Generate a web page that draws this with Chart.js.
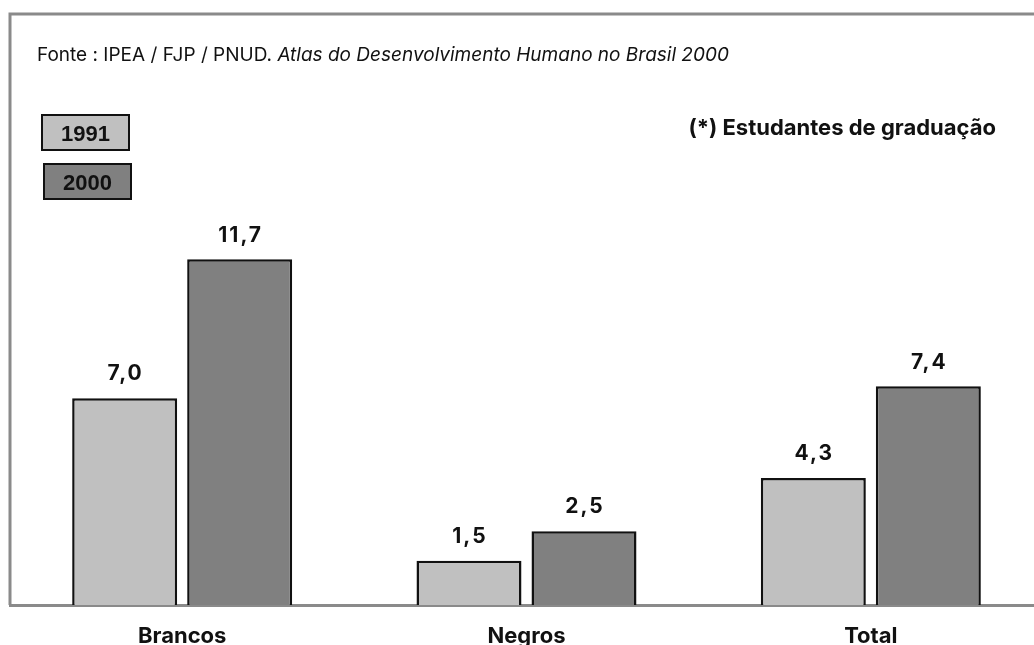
<!DOCTYPE html>
<html>
<head>
<meta charset="utf-8">
<script src="https://cdn.jsdelivr.net/npm/chart.js@4/dist/chart.umd.min.js"></script>
<style>
  html, body { margin: 0; padding: 0; background: #fff; overflow: hidden; }
  #wrap { width: 1034px; height: 645px; overflow: hidden; position: relative; }
  #wrap canvas { display: block; }
</style>
</head>
<body>
<div id="wrap"><canvas id="c" width="1050" height="645" style="width:1050px;height:645px"></canvas></div>
<script>
// Taxa de escolarização no ensino superior (%), por cor
const categories = ['Brancos', 'Negros', 'Total'];
const years = ['1991', '2000'];
const values1991 = [7.0, 1.5, 4.3];
const values2000 = [11.7, 2.5, 7.4];
const sourceText = 'Fonte : IPEA / FJP / PNUD. ';
const sourceTitle = 'Atlas do Desenvolvimento Humano no Brasil 2000';
const noteText = '(*) Estudantes de graduação';

const FONT = 'Inter, "Open Sans", sans-serif';
const LEGEND_FONT = '"Liberation Sans", Arial, sans-serif';
const FRAME = '#8a8a8a';

const fmt = v => v.toFixed(1).replace('.', ',');

// Moldura cinza em volta do gráfico
const framePlugin = {
  id: 'frame',
  beforeDatasetsDraw(chart) {
    const { ctx, chartArea: a } = chart;
    ctx.save();
    ctx.strokeStyle = FRAME;
    ctx.lineWidth = 3;
    ctx.beginPath();
    ctx.moveTo(a.right + 20, a.top);
    ctx.lineTo(a.left, a.top);
    ctx.lineTo(a.left, a.bottom);
    ctx.stroke();
    ctx.restore();
  }
};

// Valores sobre as barras
const valueLabels = {
  id: 'valueLabels',
  afterDatasetsDraw(chart) {
    const { ctx } = chart;
    ctx.save();
    ctx.font = 'bold 21px ' + FONT;
    ctx.letterSpacing = '2px';
    ctx.fillStyle = '#111';
    ctx.textAlign = 'center';
    ctx.textBaseline = 'middle';
    chart.data.datasets.forEach((ds, i) => {
      chart.getDatasetMeta(i).data.forEach((bar, j) => {
        ctx.fillText(fmt(ds.data[j]), bar.x + 1, bar.y - 24);
      });
    });
    ctx.restore();
  }
};

// Fonte, nota e caixas de legenda
const annotations = {
  id: 'annotations',
  afterDraw(chart) {
    const { ctx } = chart;
    ctx.save();
    ctx.fillStyle = '#111';
    ctx.textBaseline = 'middle';
    ctx.textAlign = 'left';
    ctx.font = '19px ' + FONT;
    ctx.fillText(sourceText, 37, 55);
    const w = ctx.measureText(sourceText).width;
    ctx.font = 'italic 19px ' + FONT;
    ctx.fillText(sourceTitle, 37 + w, 55);

    ctx.font = 'bold 22px ' + FONT;
    ctx.textAlign = 'right';
    ctx.fillText(noteText, 996, 128);

    const boxes = [
      { x: 42, y: 115, w: 87, h: 35 },
      { x: 44, y: 164, w: 87, h: 35 }
    ];
    chart.data.datasets.forEach((ds, i) => {
      const b = boxes[i];
      ctx.fillStyle = ds.backgroundColor;
      ctx.fillRect(b.x, b.y, b.w, b.h);
      ctx.strokeStyle = '#111';
      ctx.lineWidth = 2;
      ctx.strokeRect(b.x, b.y, b.w, b.h);
      ctx.fillStyle = '#111';
      ctx.font = 'bold 22px ' + LEGEND_FONT;
      ctx.textAlign = 'center';
      ctx.fillText(ds.label, b.x + b.w / 2, b.y + b.h / 2 + 2);
    });
    ctx.restore();
  }
};

new Chart(document.getElementById('c'), {
  type: 'bar',
  data: {
    labels: categories,
    datasets: [
      { label: years[0], data: values1991, backgroundColor: '#c0c0c0', borderColor: '#111', borderWidth: 2.5 },
      { label: years[1], data: values2000, backgroundColor: '#808080', borderColor: '#111', borderWidth: 2.5 }
    ]
  },
  options: {
    responsive: false,
    animation: false,
    events: [],
    layout: { padding: { left: 10, right: 7, top: 14, bottom: 0 } },
    datasets: {
      bar: { categoryPercentage: 0.668, barPercentage: 0.913 }
    },
    plugins: {
      legend: { display: false },
      tooltip: { enabled: false },
      title: { display: false }
    },
    scales: {
      x: {
        grid: { display: false, drawTicks: false },
        border: { display: true, color: FRAME, width: 3 },
        ticks: { color: '#111', font: { family: FONT, size: 22, weight: 'bold' }, padding: 18, maxRotation: 0, autoSkip: false },
        afterFit(scale) { scale.height = 40; }
      },
      y: {
        display: false,
        min: 0,
        max: 20
      }
    }
  },
  plugins: [framePlugin, valueLabels, annotations]
});
</script>
</body>
</html>
